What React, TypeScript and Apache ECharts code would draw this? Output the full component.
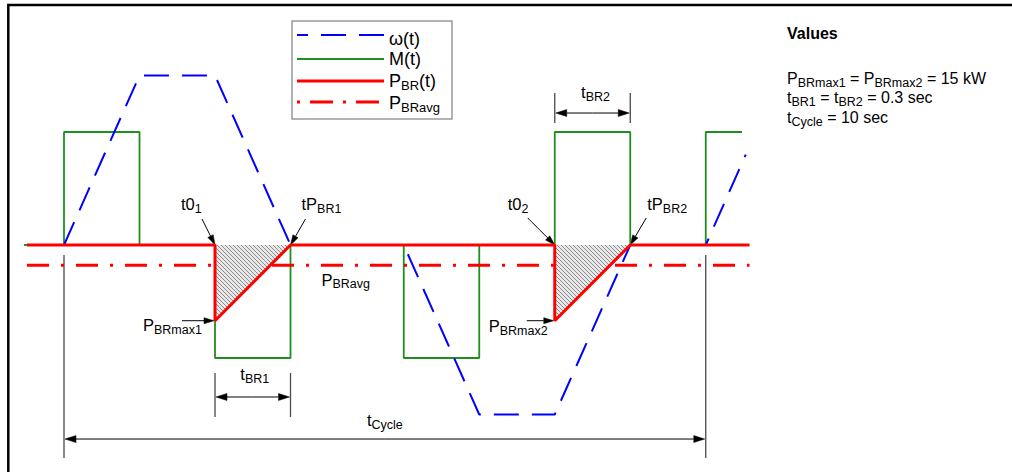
import React, { useEffect, useRef } from 'react';
import * as echarts from 'echarts';

const FONT = '"Liberation Sans", Arial, Helvetica, sans-serif';

// ---- series data (time in schematic units, values normalised) ----
const mTime = [-0.53, 0, 0, 1, 1, 2, 2, 3, 3, 4.5, 4.5, 5.5, 5.5, 6.5, 6.5, 7.5, 7.5, 8.5, 8.5, 8.98];
const mValue = [0, 0, 1, 1, 0, 0, -1, -1, 0, 0, -1, -1, 0, 0, 1, 1, 0, 0, 1, 1];

const wTime = [0, 1, 2, 3, 4.5, 5.5, 6.5, 7.5, 8.5, 9.03];
const wValue = [0, 1.5, 1.5, 0, 0, -1.5, -1.5, 0, 0, 0.8];

const pTime = [-0.49, 2, 2, 3, 6.5, 6.5, 7.5, 9.08];
const pValue = [0, 0, -0.67, 0, 0, -0.67, 0, 0];

const avgTime = [-0.49, 9.08];
const avgValue = [-0.18, -0.18];

const seriesNames = ['ω(t)', 'M(t)', 'P_{BR}(t)', 'P_{BRavg}'];

const valuesTitle = 'Values';
const valuesLines = ['P_{BRmax1} = P_{BRmax2} = 15 kW', 't_{BR1} = t_{BR2} = 0.3 sec', 't_{Cycle} = 10 sec'];

// annotations anchored at data points
const pointLabels = [
  { text: 't0_{1}', at: [2, 0], dx: -34, dy: -35, arrowFrom: [-13, -26] },
  { text: 'tP_{BR1}', at: [3, 0], dx: 11, dy: -35, arrowFrom: [15, -26] },
  { text: 'W_{BR1}', at: [2, 0], dx: 10, dy: 17 },
  { text: 'P_{BRavg}', at: [3, -0.18], dx: 31, dy: 20 },
  { text: 'P_{BRmax1}', at: [2, -0.67], dx: -72, dy: 10, arrowFrom: [-33, 0] },
  { text: 't0_{2}', at: [6.5, 0], dx: -47, dy: -35, arrowFrom: [-27, -27] },
  { text: 'tP_{BR2}', at: [7.5, 0], dx: 17, dy: -35, arrowFrom: [16, -27] },
  { text: 'W_{BR2}', at: [6.5, 0], dx: 8, dy: 17 },
  { text: 'P_{BRmax2}', at: [6.5, -0.67], dx: -66, dy: 11, arrowFrom: [-28, 0] },
];

const dims = [
  { text: 't_{BR1}', from: 2, to: 3, at: -1.345, ext: [-1.133, -1.522], labelDy: -17, labelDx: 2 },
  { text: 't_{BR2}', from: 6.5, to: 7.5, at: 1.168, ext: [1.345, 1.08], labelDy: -15, labelDx: 3 },
  { text: 't_{Cycle}', from: 0, to: 8.5, at: -1.717, ext: [-0.088, -1.885], labelDy: -13, labelDx: 0 },
];

function zip(t: number[], v: number[]) {
  return t.map((x, i) => [x, v[i]]);
}

function toRich(s: string) {
  return s
    .split(/(_\{[^}]*\})/)
    .filter((p) => p.length)
    .map((p) => (p.startsWith('_{') ? `{s|${p.slice(2, -1)}}` : `{m|${p}}`))
    .join('');
}

function label(x: number, baseline: number, s: string, size = 16.5, sub = 12.5, align = 'left', bold = false) {
  const pad = 0.85 * (size - sub) + 3;
  return {
    type: 'text',
    x,
    y: baseline - 0.85 * size,
    silent: true,
    style: {
      text: toRich(s),
      align,
      verticalAlign: 'top',
      rich: {
        m: { fontSize: size, fontFamily: FONT, fontWeight: bold ? 'bold' : 'normal', fill: '#000', lineHeight: size, verticalAlign: 'top' },
        s: { fontSize: sub, fontFamily: FONT, fontWeight: bold ? 'bold' : 'normal', fill: '#000', lineHeight: sub, verticalAlign: 'top', padding: [pad, 0, 0, 0] },
      },
    },
  };
}

function arrow(x1: number, y1: number, x2: number, y2: number, hl = 10, hw = 3, color = '#000', lw = 1) {
  const dx = x2 - x1;
  const dy = y2 - y1;
  const L = Math.hypot(dx, dy);
  const ux = dx / L;
  const uy = dy / L;
  const bx = x2 - ux * hl;
  const by = y2 - uy * hl;
  return [
    { type: 'line', silent: true, shape: { x1, y1, x2: bx, y2: by }, style: { stroke: color, lineWidth: lw } },
    {
      type: 'polygon',
      silent: true,
      shape: { points: [[x2, y2], [bx - uy * hw, by + ux * hw], [bx + uy * hw, by - ux * hw]] },
      style: { fill: color, stroke: color, lineWidth: 0.5 },
    },
  ];
}

export default function App() {
  const ref = useRef<HTMLDivElement>(null);

  useEffect(() => {
    if (!ref.current) return;
    const chart = echarts.init(ref.current, undefined, { renderer: 'svg' });

    const pc = document.createElement('canvas');
    pc.width = 4;
    pc.height = 4;
    const g = pc.getContext('2d');
    if (g) {
      g.fillStyle = '#e9e9e9';
      g.fillRect(0, 0, 4, 4);
      g.strokeStyle = '#8a8a8a';
      g.lineWidth = 1;
      g.beginPath();
      g.moveTo(0, 0);
      g.lineTo(4, 4);
      g.moveTo(-1, 3);
      g.lineTo(1, 5);
      g.moveTo(3, -1);
      g.lineTo(5, 1);
      g.stroke();
    }

    chart.setOption({
      animation: false,
      grid: { left: 18.7, top: 19, width: 732.35, height: 452, containLabel: false },
      xAxis: { type: 'value', min: -0.6, max: 9.1, show: false, splitLine: { show: false } },
      yAxis: { type: 'value', min: -2, max: 2, show: false, splitLine: { show: false } },
      series: [
        {
          name: seriesNames[1],
          type: 'line',
          data: zip(mTime, mValue),
          showSymbol: false,
          symbol: 'none',
          clip: false,
          lineStyle: { color: '#1f8f1f', width: 1.8 },
          z: 2,
        },
        {
          name: seriesNames[0],
          type: 'line',
          data: zip(wTime, wValue),
          showSymbol: false,
          symbol: 'none',
          clip: false,
          lineStyle: { color: '#0000ff', width: 2, type: [25, 13] },
          z: 3,
        },
        {
          name: seriesNames[3],
          type: 'line',
          data: zip(avgTime, avgValue),
          showSymbol: false,
          symbol: 'none',
          clip: false,
          lineStyle: { color: '#ff0000', width: 3, type: [22, 12, 3, 12] },
          z: 4,
        },
        {
          name: seriesNames[2],
          type: 'line',
          data: zip(pTime, pValue),
          showSymbol: false,
          symbol: 'none',
          clip: false,
          lineStyle: { color: '#ff0000', width: 3 },
          areaStyle: { color: { image: pc, repeat: 'repeat' }, opacity: 1, origin: 0 },
          z: 5,
        },
      ],
    });

    const P = (t: number, v: number) => chart.convertToPixel({ gridIndex: 0 }, [t, v]) as number[];

    const els: any[] = [];
    // frame
    els.push({ type: 'line', silent: true, shape: { x1: 7, y1: 5, x2: 1012, y2: 5 }, style: { stroke: '#000', lineWidth: 2.5 } });
    els.push({ type: 'line', silent: true, shape: { x1: 8.3, y1: 4, x2: 8.3, y2: 472 }, style: { stroke: '#000', lineWidth: 2.5 } });

    // legend
    els.push({ type: 'rect', silent: true, shape: { x: 292, y: 21, width: 160, height: 98 }, style: { fill: '#fff', stroke: '#9a9a9a', lineWidth: 1.5 } });
    const legY = [35, 59, 81, 102];
    const legBase = [45, 65, 87, 109];
    const legStyles = [
      { stroke: '#0000ff', lineWidth: 2, lineDash: [25, 13], lineDashOffset: 14 },
      { stroke: '#1f8f1f', lineWidth: 1.8 },
      { stroke: '#ff0000', lineWidth: 3 },
      { stroke: '#ff0000', lineWidth: 3, lineDash: [3, 10, 23, 10] },
    ];
    seriesNames.forEach((n, i) => {
      els.push({ type: 'line', silent: true, shape: { x1: 297, y1: legY[i], x2: 384, y2: legY[i] }, style: legStyles[i] });
      els.push(label(389, legBase[i], n, 18, 13));
    });

    // values block
    els.push(label(787, 39, valuesTitle, 16, 12, 'left', true));
    const vb = [84, 103.5, 123];
    valuesLines.forEach((s, i) => els.push(label(787, vb[i], s, 16, 12.5)));

    // point annotations
    pointLabels.forEach((a) => {
      const [px, py] = P(a.at[0], a.at[1]);
      els.push(label(px + a.dx, py + a.dy, a.text));
      if (a.arrowFrom) {
        const tipX = a.arrowFrom[1] === 0 ? px - 1 : px;
        els.push(...arrow(px + a.arrowFrom[0], py + a.arrowFrom[1], tipX, py, 10, 3));
      }
    });

    // dimension annotations
    dims.forEach((d) => {
      const [x1, y] = P(d.from, d.at);
      const [x2] = P(d.to, d.at);
      const [, e1] = P(d.from, d.ext[0]);
      const [, e2] = P(d.from, d.ext[1]);
      els.push({ type: 'line', silent: true, shape: { x1, y1: e1, x2: x1, y2: e2 }, style: { stroke: '#4a4a4a', lineWidth: 1.3 } });
      els.push({ type: 'line', silent: true, shape: { x1: x2, y1: e1, x2, y2: e2 }, style: { stroke: '#4a4a4a', lineWidth: 1.3 } });
      const mid = (x1 + x2) / 2;
      els.push(...arrow(mid, y, x1 + 1, y, 11, 3.5));
      els.push(...arrow(mid, y, x2 - 1, y, 11, 3.5));
      els.push(label(mid + d.labelDx, y + d.labelDy, d.text, 16.5, 12.5, 'center'));
    });

    chart.setOption({ graphic: { elements: els } });

    return () => chart.dispose();
  }, []);

  return <div ref={ref} style={{ position: 'absolute', left: 0, top: 0, width: 1012, height: 472, background: '#fff' }} />;
}
